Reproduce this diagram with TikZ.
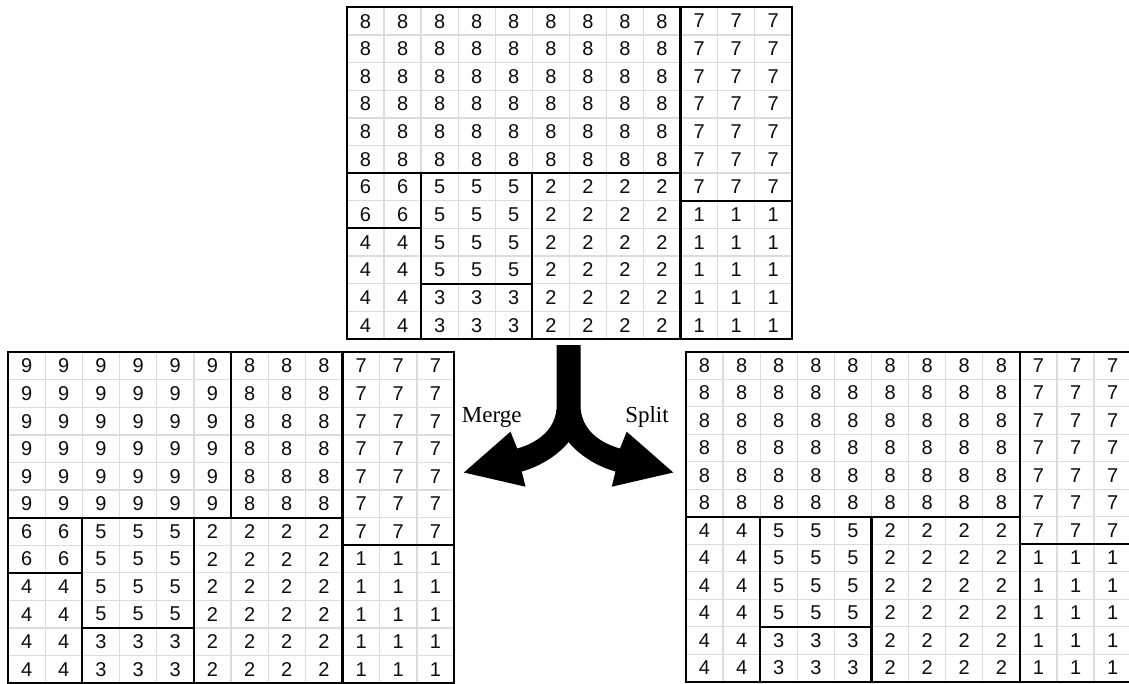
\documentclass[tikz,border=0pt]{standalone}
\usepackage{fontspec}
\setmainfont{Liberation Serif}
\newfontfamily\arialf{Liberation Sans}
\definecolor{gridgray}{RGB}{220,220,220}
\newcommand\drawgrid[6]{% name, x0, y0, cw, rh, rows
  \foreach \row [count=\r from 0] in {#6} {
    \foreach \v [count=\c from 0] in \row {
      \node[cell, minimum width=#4pt, minimum height=#5pt]
        (#1-\r-\c) at ({#2+\c*#4+#4/2},{#3+\r*#5+#5/2}) {\v};
    }
  }
}
\begin{document}
\begin{tikzpicture}[x=1pt,y=-1pt,
  cell/.style={draw=gridgray, line width=1.3pt, inner sep=0pt, outer sep=0pt,
    font=\arialf\fontsize{20}{20}\selectfont, text=black!95},
  blk/.style={draw=black, line width=2.1pt},
  lbl/.style={font=\fontsize{23}{25}\selectfont, anchor=base, inner sep=0pt}]
\fill[white] (0,0) rectangle (1129,684);
\useasboundingbox (0,0) rectangle (1129,684);
\clip (0,0) rectangle (1129,684);
% top grid
\drawgrid{T}{347}{7.3}{37.06}{27.64}{
 {8,8,8,8,8,8,8,8,8,7,7,7},{8,8,8,8,8,8,8,8,8,7,7,7},{8,8,8,8,8,8,8,8,8,7,7,7},
 {8,8,8,8,8,8,8,8,8,7,7,7},{8,8,8,8,8,8,8,8,8,7,7,7},{8,8,8,8,8,8,8,8,8,7,7,7},
 {6,6,5,5,5,2,2,2,2,7,7,7},{6,6,5,5,5,2,2,2,2,1,1,1},{4,4,5,5,5,2,2,2,2,1,1,1},
 {4,4,5,5,5,2,2,2,2,1,1,1},{4,4,3,3,3,2,2,2,2,1,1,1},{4,4,3,3,3,2,2,2,2,1,1,1}}
% left grid (Merge)
\drawgrid{L}{8}{352.2}{37.17}{27.58}{
 {9,9,9,9,9,9,8,8,8,7,7,7},{9,9,9,9,9,9,8,8,8,7,7,7},{9,9,9,9,9,9,8,8,8,7,7,7},
 {9,9,9,9,9,9,8,8,8,7,7,7},{9,9,9,9,9,9,8,8,8,7,7,7},{9,9,9,9,9,9,8,8,8,7,7,7},
 {6,6,5,5,5,2,2,2,2,7,7,7},{6,6,5,5,5,2,2,2,2,1,1,1},{4,4,5,5,5,2,2,2,2,1,1,1},
 {4,4,5,5,5,2,2,2,2,1,1,1},{4,4,3,3,3,2,2,2,2,1,1,1},{4,4,3,3,3,2,2,2,2,1,1,1}}
% right grid (Split)
\drawgrid{R}{686}{351.7}{37.1}{27.5}{
 {8,8,8,8,8,8,8,8,8,7,7,7},{8,8,8,8,8,8,8,8,8,7,7,7},{8,8,8,8,8,8,8,8,8,7,7,7},
 {8,8,8,8,8,8,8,8,8,7,7,7},{8,8,8,8,8,8,8,8,8,7,7,7},{8,8,8,8,8,8,8,8,8,7,7,7},
 {4,4,5,5,5,2,2,2,2,7,7,7},{4,4,5,5,5,2,2,2,2,1,1,1},{4,4,5,5,5,2,2,2,2,1,1,1},
 {4,4,5,5,5,2,2,2,2,1,1,1},{4,4,3,3,3,2,2,2,2,1,1,1},{4,4,3,3,3,2,2,2,2,1,1,1}}
% block borders: top
\draw[blk] (T-0-0.north west) rectangle (T-5-8.south east);
\draw[blk] (T-0-9.north west) rectangle (T-6-11.south east);
\draw[blk] (T-6-0.north west) rectangle (T-7-1.south east);
\draw[blk] (T-6-2.north west) rectangle (T-9-4.south east);
\draw[blk] (T-6-5.north west) rectangle (T-11-8.south east);
\draw[blk] (T-7-9.north west) rectangle (T-11-11.south east);
\draw[blk] (T-8-0.north west) rectangle (T-11-1.south east);
\draw[blk] (T-10-2.north west) rectangle (T-11-4.south east);
% block borders: left
\draw[blk] (L-0-0.north west) rectangle (L-5-5.south east);
\draw[blk] (L-0-6.north west) rectangle (L-5-8.south east);
\draw[blk] (L-0-9.north west) rectangle (L-6-11.south east);
\draw[blk] (L-6-0.north west) rectangle (L-7-1.south east);
\draw[blk] (L-6-2.north west) rectangle (L-9-4.south east);
\draw[blk] (L-6-5.north west) rectangle (L-11-8.south east);
\draw[blk] (L-7-9.north west) rectangle (L-11-11.south east);
\draw[blk] (L-8-0.north west) rectangle (L-11-1.south east);
\draw[blk] (L-10-2.north west) rectangle (L-11-4.south east);
% block borders: right
\draw[blk] (R-0-0.north west) rectangle (R-5-8.south east);
\draw[blk] (R-0-9.north west) rectangle (R-6-11.south east);
\draw[blk] (R-6-0.north west) rectangle (R-11-1.south east);
\draw[blk] (R-6-2.north west) rectangle (R-9-4.south east);
\draw[blk] (R-6-5.north west) rectangle (R-11-8.south east);
\draw[blk] (R-7-9.north west) rectangle (R-11-11.south east);
\draw[blk] (R-10-2.north west) rectangle (R-11-4.south east);
% forked arrow
\fill[black] (556.7,345) -- (580.5,345) -- (580.5,405)
  .. controls (580.5,430) and (600.7,443.2) .. (620,448.5)
  -- (626.7,431.7) -- (673.3,472.5) -- (611.7,486.7) -- (615.5,471.5)
  .. controls (596.5,466.5) and (578,454) .. (568.6,442)
  .. controls (559.2,454) and (540.7,466.5) .. (521.7,471.5)
  -- (525.5,486.7) -- (463.9,472.5) -- (510.5,431.7) -- (517.2,448.5)
  .. controls (536.5,443.2) and (556.7,430) .. (556.7,405) -- cycle;
\node[lbl] (merge) at (491.7,422) {Merge};
\node[lbl] (split) at (647,422) {Split};
\end{tikzpicture}
\end{document}
